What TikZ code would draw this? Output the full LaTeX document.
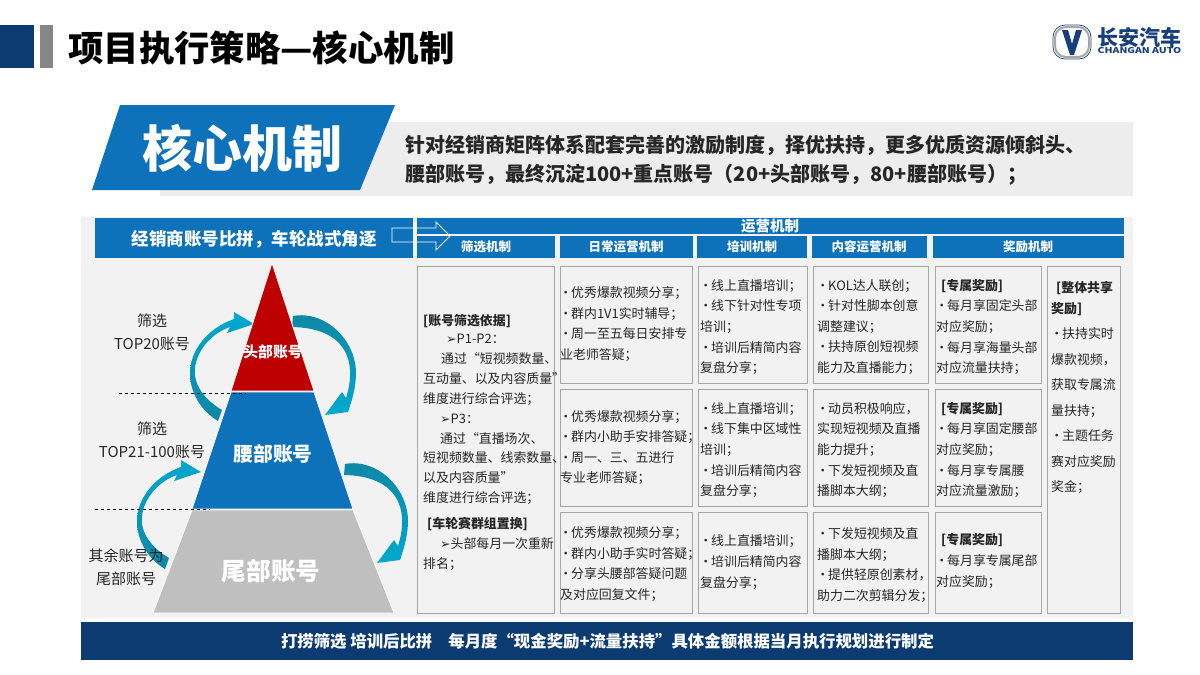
\documentclass[tikz,border=0pt]{standalone}
\usepackage{fontspec}
\setmainfont{Noto Sans CJK SC}
\newfontfamily\symfont{DejaVu Sans}
\definecolor{barblue}{HTML}{0E72BA}
\definecolor{navy}{HTML}{0B3B70}
\definecolor{panelgray}{HTML}{F2F2F2}
\definecolor{cellline}{HTML}{A6A6A6}
\definecolor{inktext}{HTML}{262626}
\definecolor{logoblue}{HTML}{17407A}
\definecolor{turnbright}{HTML}{00A9CE}
\definecolor{turndark}{HTML}{0E86A4}
\newcommand{\dotmark}{\hspace*{3.5pt}\makebox[4pt][c]{·}\hspace{3.5pt}}
\newcommand{\tipmark}{{\symfont\fontsize{12.5}{12.5}\selectfont ➢}}
\newcommand{\leftturn}{\shade[top color=turnbright,bottom color=turndark]
  (218,421) .. controls (200,410) and (190,392) .. (190,373)
  .. controls (190,350) and (208,328) .. (234,319)
  -- (234,312) -- (254,324) -- (227,333) -- (230,327)
  .. controls (212,333) and (197,350) .. (195,368)
  .. controls (193,385) and (205,400) .. (222,410) -- cycle;}
\newcommand{\rightturn}{\shade[top color=turndark,bottom color=turnbright]
  (293,316) .. controls (325,310) and (356,340) .. (356,373)
  .. controls (356,385) and (353,398) .. (348,412)
  -- (325,415) -- (342,392) -- (346,398)
  .. controls (358,360) and (345,328) .. (292,327) -- cycle;}
\tikzset{
  cellbox/.style={draw=cellline,line width=1pt,anchor=north west,inner sep=0pt},
  celltext/.style={anchor=west,align=left,inner sep=0pt,text=inktext,font=\fontsize{12.9}{20.6}\selectfont},
  headtext/.style={text=white,inner sep=0pt,font=\fontsize{12.5}{14}\selectfont\bfseries},
  sidetext/.style={align=center,inner sep=0pt,text=inktext,font=\fontsize{15}{23}\selectfont},
  tiertext/.style={text=white,inner sep=0pt,font=\fontsize{#1}{#1}\selectfont\bfseries},
}
\begin{document}
\begin{tikzpicture}[x=1pt,y=-1pt]
\useasboundingbox (0,0) rectangle (1200,675);

\fill[navy] (0,25) rectangle (34,68);
\fill[gray!95] (40,25) rectangle (53,68);
\node[anchor=west,inner sep=0pt,font=\fontsize{35.4}{36}\selectfont\bfseries] (title) at (68,48) {项目执行策略—核心机制};

\draw[logoblue,line width=.7pt,rounded corners=12pt] (1053,25) rectangle (1091,59);
\draw[cellline,line width=2pt,rounded corners=11pt] (1055,27) rectangle (1089,57);
\fill[logoblue] (1062,30) -- (1068,30) -- (1072,44) -- (1076,30) -- (1082,30) -- (1074,55) -- (1070,55) -- cycle;
\node[inner sep=0pt,text=logoblue,font=\fontsize{21}{21}\selectfont\bfseries] (brand) at (1139.5,37) {长安汽车};
\node[inner sep=0pt,text=logoblue,font=\fontsize{8}{8}\selectfont\bfseries] (brandlatin) at (1139.5,50.5) {\scalebox{1.3}[1]{CHANGAN AUTO}};

\fill[panelgray!98!black] (160,122) rectangle (1133,196);
\fill[barblue] (120,105) -- (395,105) -- (360,190) -- (92,190) -- cycle;
\node[text=white,inner sep=0pt,font=\fontsize{50}{50}\selectfont\bfseries] (corelabel) at (242,148) {核心机制};
\node[anchor=west,align=left,inner sep=0pt,text=inktext,font=\fontsize{20}{29}\selectfont\bfseries] (summary) at (405,160.5)
  {针对经销商矩阵体系配套完善的激励制度，择优扶持，更多优质资源倾斜头、\\腰部账号，最终沉淀100+重点账号（20+头部账号，80+腰部账号）；};

\fill[panelgray] (81,217) rectangle (1133,618);
\fill[barblue] (95,218) rectangle (413,258);
\fill[barblue] (417,218) rectangle (1124,234);
\fill[barblue] (417,236) rectangle (555,258);
\fill[barblue] (560,236) rectangle (693,258);
\fill[barblue] (697,236) rectangle (807,258);
\fill[barblue] (812,236) rectangle (927,258);
\fill[barblue] (933,236) rectangle (1124,258);
\node[text=white,inner sep=0pt,font=\fontsize{17.5}{18}\selectfont\bfseries] (racelabel) at (254,239) {经销商账号比拼，车轮战式角逐};
\draw[white,line width=.8pt] (392,228) -- (436,228) -- (436,222) -- (450,236) -- (436,250) -- (436,242) -- (392,242) -- cycle;
\node[text=white,inner sep=0pt,font=\fontsize{14.5}{15}\selectfont\bfseries] (opslabel) at (770,226) {运营机制};
\node[headtext] (h1) at (486,247) {筛选机制};
\node[headtext] (h2) at (626,247) {日常运营机制};
\node[headtext] (h3) at (752,247) {培训机制};
\node[headtext] (h4) at (869,247) {内容运营机制};
\node[headtext] (h5) at (1028,247) {奖励机制};

\leftturn
\begin{scope}[shift={(-53,148)}]\leftturn\end{scope}
\rightturn
\begin{scope}[shift={(52,148)}]\rightturn\end{scope}

\draw[white,line width=.8pt,fill=red!75!black] (272,263) -- (314,391) -- (231,391) -- cycle;
\draw[white,line width=.8pt,fill=barblue] (231,392) -- (314,392) -- (353,509) -- (192,509) -- cycle;
\draw[white,line width=.8pt,fill=gray!50] (192,510) -- (353,510) -- (394,613) -- (153,613) -- cycle;
\node[tiertext=14.8] (tophead) at (273,352) {头部账号};
\node[tiertext=19.8] (tierwaist) at (273,454) {腰部账号};
\node[tiertext=24.6] (tiertail) at (271,571) {尾部账号};

\coordinate (d1a) at (119,393);
\coordinate (d1b) at (246,393);
\coordinate (d2a) at (95,509);
\coordinate (d2b) at (210,509);
\draw[dashed,line width=.7pt] (d1a) -- (d1b);
\draw[dashed,line width=.7pt] (d2a) -- (d2b);

\node[sidetext] (s1) at (152,332.5) {筛选\\TOP20账号};
\node[sidetext] (s2) at (152,440.5) {筛选\\TOP21-100账号};
\node[sidetext] (s3) at (126,567.5) {其余账号为\\尾部账号};

\node[cellbox,minimum width=137pt,minimum height=347pt] (c1) at (417,266) {};
\node[cellbox,minimum width=132pt,minimum height=117pt] (c2a) at (560,266) {};
\node[cellbox,minimum width=132pt,minimum height=117pt] (c2b) at (560,389) {};
\node[cellbox,minimum width=132pt,minimum height=101pt] (c2c) at (560,512) {};
\node[cellbox,minimum width=109pt,minimum height=117pt] (c3a) at (698,266) {};
\node[cellbox,minimum width=109pt,minimum height=117pt] (c3b) at (698,389) {};
\node[cellbox,minimum width=109pt,minimum height=101pt] (c3c) at (698,512) {};
\node[cellbox,minimum width=115pt,minimum height=117pt] (c4a) at (813,266) {};
\node[cellbox,minimum width=115pt,minimum height=117pt] (c4b) at (813,389) {};
\node[cellbox,minimum width=115pt,minimum height=101pt] (c4c) at (813,512) {};
\node[cellbox,minimum width=106pt,minimum height=117pt] (c5a) at (935,266) {};
\node[cellbox,minimum width=106pt,minimum height=117pt] (c5b) at (935,389) {};
\node[cellbox,minimum width=106pt,minimum height=101pt] (c5c) at (935,512) {};
\node[cellbox,minimum width=73pt,minimum height=347pt] (c6) at (1047,266) {};

\node[celltext,font=\fontsize{12.9}{19.9}\selectfont] (t1) at (423,442.5) {\textbf{[账号筛选依据]}\\[-2pt]
  \hspace*{23pt}\tipmark P1-P2：\\
  \hspace*{18pt}通过“短视频数量、\\
  互动量、以及内容质量”\\
  维度进行综合评选；\\
  \hspace*{17pt}\tipmark P3：\\
  \hspace*{17pt}通过“直播场次、\\
  短视频数量、线索数量、\\
  以及内容质量”\\
  维度进行综合评选；\\[6pt]
  \hspace*{4pt}\textbf{[车轮赛群组置换]}\\
  \hspace*{17pt}\tipmark 头部每月一次重新\\
  排名；};

\node[celltext] (t2a) at (560,324) {\dotmark 优秀爆款视频分享；\\\dotmark 群内1V1实时辅导；\\\dotmark 周一至五每日安排专\\业老师答疑；};
\node[celltext] (t2b) at (560,447.5) {\dotmark 优秀爆款视频分享；\\\dotmark 群内小助手安排答疑；\\\dotmark 周一、三、五进行\\专业老师答疑；};
\node[celltext] (t2c) at (560,564) {\dotmark 优秀爆款视频分享；\\\dotmark 群内小助手实时答疑；\\\dotmark 分享头腰部答疑问题\\及对应回复文件；};

\node[celltext] (t3a) at (700,327) {\dotmark 线上直播培训；\\\dotmark 线下针对性专项\\培训；\\\dotmark 培训后精简内容\\复盘分享；};
\node[celltext] (t3b) at (700,450) {\dotmark 线上直播培训；\\\dotmark 线下集中区域性\\培训；\\\dotmark 培训后精简内容\\复盘分享；};
\node[celltext] (t3c) at (700,562) {\dotmark 线上直播培训；\\\dotmark 培训后精简内容\\复盘分享；};

\node[celltext] (t4a) at (817,327) {\dotmark KOL达人联创；\\\dotmark 针对性脚本创意\\调整建议；\\\dotmark 扶持原创短视频\\能力及直播能力；};
\node[celltext] (t4b) at (817,450) {\dotmark 动员积极响应，\\实现短视频及直播\\能力提升；\\\dotmark 下发短视频及直\\播脚本大纲；};
\node[celltext] (t4c) at (817,565) {\dotmark 下发短视频及直\\播脚本大纲；\\\dotmark 提供轻原创素材，\\助力二次剪辑分发；};

\node[celltext] (t5a) at (936,327) {\hspace*{5pt}\textbf{[专属奖励]}\\\dotmark 每月享固定头部\\对应奖励；\\\dotmark 每月享海量头部\\对应流量扶持；};
\node[celltext] (t5b) at (936,450) {\hspace*{5pt}\textbf{[专属奖励]}\\\dotmark 每月享固定腰部\\对应奖励；\\\dotmark 每月享专属腰\\对应流量激励；};
\node[celltext] (t5c) at (936,561) {\hspace*{5pt}\textbf{[专属奖励]}\\\dotmark 每月享专属尾部\\对应奖励；};

\node[celltext,font=\fontsize{12.9}{25.5}\selectfont] (t6) at (1051,387.5) {\hspace*{5pt}\textbf{[整体共享}\\[-4.5pt]\textbf{奖励]}\\
  \dotmark 扶持实时\\爆款视频，\\获取专属流\\量扶持；\\\dotmark 主题任务\\赛对应奖励\\奖金；};

\fill[navy] (81,622) rectangle (1133,660);
\node[text=white,inner sep=0pt,font=\fontsize{16.4}{17}\selectfont\bfseries] (footer) at (607.5,641) {打捞筛选 培训后比拼\hspace{16pt}每月度“现金奖励+流量扶持”具体金额根据当月执行规划进行制定};
\end{tikzpicture}
\end{document}
